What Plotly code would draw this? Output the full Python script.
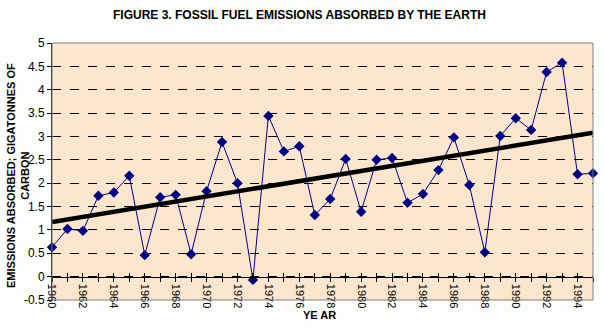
import plotly.graph_objects as go

years = list(range(1960, 1996))
absorbed = [0.63, 1.02, 0.98, 1.73, 1.80, 2.16, 0.46, 1.70, 1.75, 0.48,
            1.83, 2.88, 2.00, -0.07, 3.44, 2.68, 2.79, 1.32, 1.66, 2.52,
            1.39, 2.50, 2.54, 1.58, 1.77, 2.28, 2.98, 1.96, 0.52, 3.01,
            3.39, 3.14, 4.38, 4.58, 2.19, 2.21]
trend_years = [1960, 1995]
trend_values = [1.17, 3.08]
y_ticks = [-0.5, 0, 0.5, 1, 1.5, 2, 2.5, 3, 3.5, 4, 4.5, 5]
y_tick_text = ["-0.5", "0", "0.5", "1", "1.5", "2", "2.5", "3", "3.5", "4", "4.5", "5"]
x_tick_text = [str(y) if y % 2 == 0 else "" for y in years]

FONT = "Liberation Sans, Arial, sans-serif"
y_min, y_max = -0.5, 5

fig = go.Figure()
fig.add_trace(go.Scatter(
    x=years, y=absorbed, mode="lines+markers",
    line=dict(color="#000080", width=1),
    marker=dict(symbol="diamond", size=8, color="#000080"),
    cliponaxis=False, showlegend=False, hoverinfo="skip"))
fig.add_trace(go.Scatter(
    x=trend_years, y=trend_values, mode="lines",
    line=dict(color="#000000", width=4.5),
    cliponaxis=False, showlegend=False, hoverinfo="skip"))
# invisible trace to hold the overlay axis used for crossing ticks
fig.add_trace(go.Scatter(x=years, y=absorbed, xaxis="x2", mode="none",
                         showlegend=False, hoverinfo="skip"))

zero_pos = (0 - y_min) / (y_max - y_min)

fig.update_layout(
    width=605, height=328,
    margin=dict(l=52, r=12, t=43, b=28),
    paper_bgcolor="#FCFEFC",
    plot_bgcolor="#FDE6CE",
    font=dict(family=FONT, size=11, color="#000000"),
    xaxis=dict(
        range=[1960, 1995], anchor="free", position=zero_pos,
        tickmode="array", tickvals=years, ticktext=x_tick_text,
        tickangle=90, ticks="outside", ticklen=4, tickcolor="#000000",
        showline=True, linecolor="#000000", linewidth=1,
        showgrid=False, zeroline=False,
        tickfont=dict(family=FONT, size=11, color="#000000"),
    ),
    xaxis2=dict(
        matches="x", overlaying="x", anchor="free", position=zero_pos,
        tickmode="array", tickvals=years, ticks="inside", ticklen=4,
        tickcolor="#000000", showticklabels=False, showline=False,
        showgrid=False, zeroline=False,
    ),
    yaxis=dict(
        range=[y_min, y_max], tickmode="array", tickvals=y_ticks,
        ticktext=y_tick_text, ticks="outside", ticklen=4, tickcolor="#000000",
        showline=True, linecolor="#000000", linewidth=1,
        showgrid=True, gridcolor="#000000", griddash="dash", gridwidth=1,
        zeroline=False,
        tickfont=dict(family=FONT, size=12, color="#000000"),
    ),
    shapes=[dict(type="rect", xref="paper", yref="paper",
                 x0=0, x1=1, y0=0, y1=1, line=dict(color="#808080", width=1),
                 layer="above")],
    annotations=[
        dict(text="<b>FIGURE 3. FOSSIL FUEL EMISSIONS ABSORBED BY THE EARTH</b>",
             xref="paper", yref="paper", x=0.458, y=1.109,
             xanchor="center", yanchor="middle", showarrow=False,
             font=dict(family=FONT, size=12, color="#000000")),
        dict(text="<b>EMISSIONS ABSORBED; GIGATONNES OF<br>CARBON</b>",
             xref="paper", yref="paper", x=-0.063, y=0.486, textangle=-90,
             xanchor="center", yanchor="middle", showarrow=False,
             font=dict(family=FONT, size=11, color="#000000")),
        dict(text="<b>YE AR</b>",
             xref="paper", yref="paper", x=0.495, y=-0.058,
             xanchor="center", yanchor="middle", showarrow=False,
             font=dict(family=FONT, size=11, color="#000000")),
    ],
)

fig.write_html("out.html")
